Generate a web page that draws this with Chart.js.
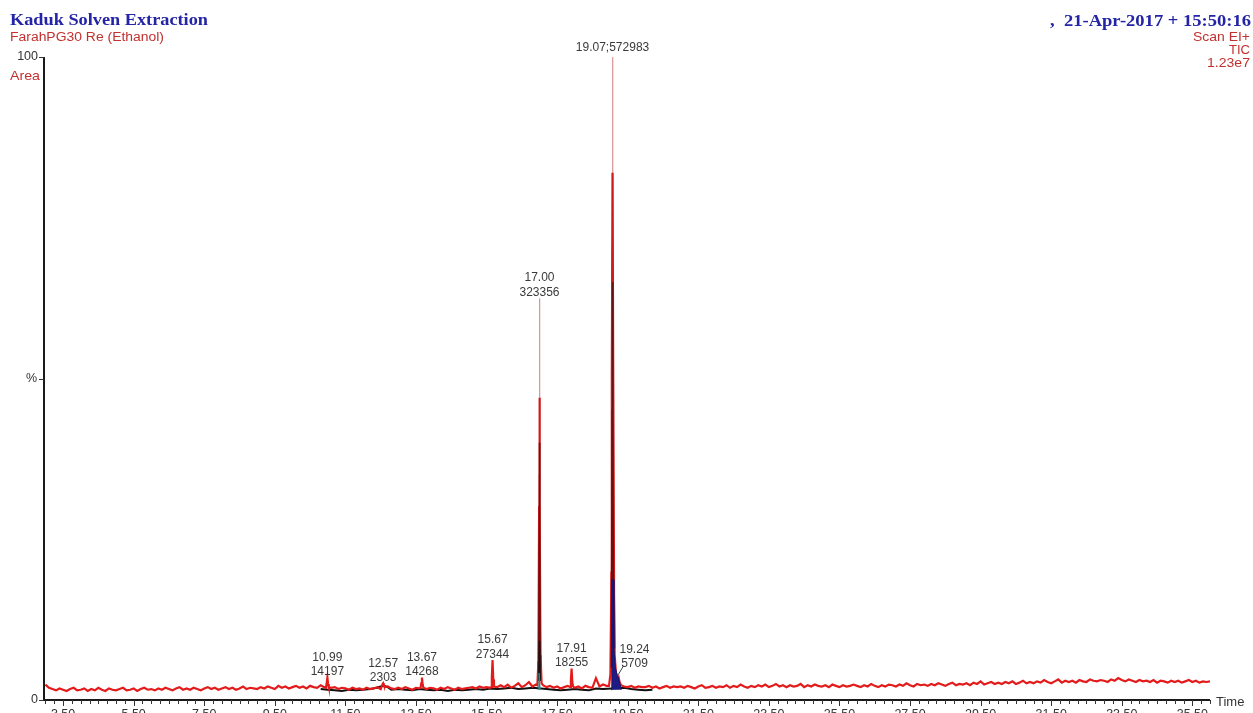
<!DOCTYPE html>
<html><head><meta charset="utf-8">
<script src="https://cdn.jsdelivr.net/npm/chart.js@4/dist/chart.umd.min.js"></script>
<style>html,body{margin:0;padding:0;background:#fff;overflow:hidden}#wrap{width:1253px;height:713px;position:relative}canvas{display:block}</style>
</head><body><div id="wrap"><canvas id="c" width="1253" height="713"></canvas></div>
<script>
// ---------- data (% of 1.23e7 TIC) ----------
const baselineStart = 3.0, baselineStep = 0.1;
const baselineValues = [
2.4,1.9,1.7,1.5,1.8,1.6,1.4,1.7,1.9,1.5,
1.6,1.8,1.4,1.7,1.5,1.9,1.6,1.4,1.8,1.6,
1.5,1.7,1.9,1.5,1.6,1.8,1.4,1.7,1.9,1.6,
1.7,1.5,1.8,1.6,1.9,1.7,1.5,1.8,2.0,1.6,
1.8,1.6,1.9,1.7,1.5,1.8,2.0,1.7,1.9,1.6,
1.8,2.0,1.7,1.9,1.6,1.8,2.1,1.7,1.9,1.8,
1.7,2.0,1.8,2.1,1.9,1.7,2.2,1.9,2.1,1.8,
2.0,2.2,1.9,2.1,1.8,2.2,2.0,1.9,2.3,2.0,
2.1,1.9,2.0,1.7,1.9,1.8,1.6,1.9,1.7,1.8,
1.6,1.9,1.7,1.8,2.0,1.7,1.9,2.1,1.8,1.7,
1.9,1.7,2.0,1.8,1.6,1.9,1.8,2.0,1.7,1.9,
1.8,1.6,1.9,1.7,2.0,1.8,1.6,1.9,1.7,1.8,
1.9,2.0,1.8,2.1,1.9,2.0,1.9,2.2,2.0,2.3,
2.0,2.4,1.9,2.2,2.6,2.0,2.3,2.8,2.1,2.4,
2.3,2.3,2.0,2.2,1.9,2.1,1.8,2.0,2.2,2.1,
1.9,2.1,1.8,2.2,2.0,1.9,3.4,2.1,2.4,2.2,
2.2,2.3,2.2,2.3,2.1,2.0,2.2,1.9,2.1,2.0,
2.0,2.2,1.9,2.1,1.8,2.0,2.2,1.9,2.1,2.0,
2.1,1.9,2.2,2.0,1.8,2.1,2.3,1.9,2.0,2.2,
1.9,2.1,2.0,2.3,1.9,2.2,2.0,2.4,2.1,1.9,
2.2,2.0,2.3,2.1,2.4,2.0,2.2,2.5,2.1,2.3,
2.0,2.3,2.1,2.2,2.5,2.0,2.3,2.1,2.4,2.2,
2.1,2.3,2.0,2.4,2.2,2.0,2.3,2.1,2.2,2.4,
2.2,2.0,2.3,2.1,2.5,2.2,2.0,2.3,2.1,2.4,
2.3,2.1,2.4,2.2,2.6,2.3,2.1,2.5,2.3,2.4,
2.2,2.5,2.3,2.6,2.4,2.2,2.5,2.7,2.3,2.5,
2.4,2.6,2.3,2.7,2.5,2.9,2.4,2.6,2.8,2.5,
2.7,2.5,2.8,2.6,2.9,2.5,2.7,3.0,2.6,2.8,
2.6,2.9,2.7,3.1,2.8,2.6,2.9,3.2,2.7,3.0,
2.8,3.0,2.7,3.1,2.9,2.8,3.2,3.0,2.9,3.1,
3.0,2.8,3.2,3.0,3.4,3.1,2.9,3.2,3.0,2.8,
3.1,2.9,3.0,2.8,3.1,2.7,3.0,2.9,2.7,3.0,
2.8,3.0,2.7,2.9,3.1,2.8,3.0,2.7,2.9,2.8,
2.9];

// TIC peak shapes
const peakTimes = [
  [10.95,10.97,10.99,11.01,11.03],
  [12.52,12.55,12.57,12.59,12.62],
  [13.63,13.65,13.67,13.69,13.71],
  [15.63,15.65,15.67,15.69,15.71],
  [16.94,16.97,16.99,17.00,17.01,17.03,17.06],
  [17.87,17.89,17.91,17.93,17.95],
  [18.97,19.01,19.04,19.06,19.07,19.08,19.10,19.13,19.17,19.21,19.24,19.27,19.31]
];
const peakValues = [
  [1.9,2.6,3.5,2.5,2.0],
  [2.0,2.4,2.6,2.3,2.0],
  [1.9,2.6,3.5,2.4,1.9],
  [2.0,3.5,6.2,3.2,2.1],
  [2.3,6,35,62.5,35,7,2.6],
  [2.0,3.0,4.9,2.8,2.1],
  [2.2,4,20,70,100,70,20,7,4,3.4,3.6,2.8,2.3]
];

// lower trace (black) under the baseline
const blackTimes = [10.8,11.0,11.2,11.4,11.6,11.8,12.0,12.2,12.4,12.5,12.6,12.7,12.8,13.0,13.2,13.4,13.6,13.8,14.0,14.2,14.4,14.6,14.8,15.0,15.2,15.4,15.6,15.8,16.0,16.2,16.4,16.6,16.8,17.2,17.4,17.6,17.8,18.0,18.2,18.4,18.6,18.8,19.4,19.6,19.8,20.0,20.2];
const blackValues = [1.7,1.6,1.5,1.4,1.6,1.5,1.6,1.7,1.9,2.1,2.2,2.0,1.6,1.7,1.6,1.5,1.7,1.6,1.5,1.6,1.4,1.6,1.5,1.6,1.7,1.6,1.8,1.7,1.8,1.9,1.7,1.8,1.9,1.7,1.6,1.5,1.6,1.7,1.6,1.5,1.8,1.7,1.9,1.7,1.6,1.5,1.6];

// overlaid channel cores inside the two main peaks
const midTimes = [[16.97,16.99,17.00,17.01,17.03],[19.03,19.05,19.07,19.09,19.12]];
const midValues = [[4,30,47,30,5],[6,50,82,50,8]];
const darkTimes = [[16.98,16.995,17.00,17.005,17.02],[19.04,19.06,19.07,19.08,19.10]];
const darkValues = [[3,25,40,25,3],[5,45,65,45,6]];
const coreTimes = [16.985,17.00,17.015];
const coreValues = [3,9.2,3];
const tealTimes = [16.98,16.99,17.01,17.02];
const tealValues = [1.6,4.2,4.2,1.6];
const blueTimes = [19.03,19.05,19.09,19.11,19.15,19.20,19.26,19.32];
const blueValues = [1.6,18.7,18.7,8,5,4,3,1.6];

// peak annotations
const labelTimes = [10.99,12.57,13.67,15.67,17.00,17.91,19.07,19.24];
const labelApex  = [3.5,2.6,3.5,6.2,62.5,4.9,100,3.6];
const labelAreas = ['14197','2303','14268','27344','323356','18255','572983','5709'];
const labelNames = ['10.99','12.57','13.67','15.67','17.00','17.91','19.07','19.24'];

// axis ticks
const xTickLabels = ['3.50','5.50','7.50','9.50','11.50','13.50','15.50','17.50','19.50','21.50','23.50','25.50','27.50','29.50','31.50','33.50','35.50'];
const xMinorStep = 0.25;
const yTickValues = [0,50,100];
const yTickLabels = ['0','%','100'];

// ---------- build series ----------
const windows = peakTimes.map(w => [w[0], w[w.length-1]]);
const tic = [];
baselineValues.forEach((v,i) => {
  const t = +(baselineStart + i*baselineStep).toFixed(2);
  if (windows.some(w => t >= w[0] && t <= w[1])) return;
  tic.push({x:t, y:v});
});
peakTimes.forEach((w,k) => w.forEach((t,j) => tic.push({x:t, y:peakValues[k][j]})));
tic.sort((a,b) => a.x - b.x);

function segs(ts, vs){
  const out = [];
  ts.forEach((w,k) => { if (k) out.push({x:(ts[k-1][ts[k-1].length-1]+w[0])/2, y:null}); w.forEach((t,j)=>out.push({x:t,y:vs[k][j]})); });
  return out;
}
const pts = (ts,vs) => ts.map((t,i)=>({x:t,y:vs[i]}));

const RED = '#e31b1b';
const datasets = [
  {data: pts(blackTimes,blackValues), borderColor:'#111', borderWidth:2, order:10},
  {data: tic, borderColor:RED, borderWidth:2.2, order:9,
   segment:{borderColor: c => (c.p0.parsed.y > 20 || c.p1.parsed.y > 20) ? '#d99494' : RED,
            borderWidth: c => (c.p0.parsed.y > 20 || c.p1.parsed.y > 20) ? 1.2 : 2.2}},
  {data: segs(midTimes,midValues), borderColor:'#d01a1a', borderWidth:2.2, order:8, spanGaps:false},
  {data: segs(darkTimes,darkValues), borderColor:'#6a1010', borderWidth:1.6, order:7, spanGaps:false},
  {data: pts(coreTimes,coreValues), borderColor:'#151515', borderWidth:1.8, order:6},
  {data: pts(tealTimes,tealValues), borderColor:'#2a8585', backgroundColor:'#2e8b8b', borderWidth:1, fill:{value:1.6}, order:5},
  {data: pts(blueTimes,blueValues), borderColor:'#16166e', backgroundColor:'#1c1c84', borderWidth:1, fill:{value:1.6}, order:4}
];

// text drawn to a target width (the original export is slightly stretched)
function fitText(ctx, text, x, yb, width, align){
  const w = ctx.measureText(text).width;
  const s = width / w;
  ctx.save();
  ctx.textAlign = 'left';
  const left = align === 'right' ? x - width : x;
  ctx.translate(left, yb); ctx.scale(s, 1);
  ctx.fillText(text, 0, 0);
  ctx.restore();
}

// ---------- decorations plugin ----------
const deco = {
  id:'deco',
  afterDraw(chart){
    const {ctx, chartArea:a, scales:{x, y}} = chart;
    ctx.save();
    // axes
    ctx.strokeStyle = '#1a1a1a'; ctx.lineWidth = 2;
    ctx.beginPath();
    ctx.moveTo(a.left, y.getPixelForValue(100)); ctx.lineTo(a.left, y.getPixelForValue(0));
    ctx.lineTo(a.right, y.getPixelForValue(0)); ctx.stroke();
    ctx.lineWidth = 1; ctx.strokeStyle = '#333';
    ctx.beginPath();
    yTickValues.forEach(v => { const py = Math.round(y.getPixelForValue(v))+0.5; ctx.moveTo(a.left-5, py); ctx.lineTo(a.left, py); });
    for (let t = Math.ceil(x.min/xMinorStep)*xMinorStep; t <= x.max+1e-9; t += xMinorStep) {
      const px = Math.round(x.getPixelForValue(t))+0.5;
      const py = y.getPixelForValue(0);
      ctx.moveTo(px, py); ctx.lineTo(px, py + (Math.abs((t-3.5)/2 - Math.round((t-3.5)/2)) < 1e-6 ? 6 : 4));
    }
    ctx.stroke();
    // tick labels
    ctx.fillStyle = '#333'; ctx.font = '12.5px "Liberation Sans", Arial, sans-serif';
    ctx.textAlign = 'center'; ctx.textBaseline = 'middle';
    xTickLabels.forEach(l => ctx.fillText(l, x.getPixelForValue(parseFloat(l)), y.getPixelForValue(0) + 15));
    ctx.textAlign = 'right';
    yTickValues.forEach((v,i) => ctx.fillText(yTickLabels[i], a.left - (yTickLabels[i]==='%' ? 7 : 6), y.getPixelForValue(v)));
    ctx.textAlign = 'left';
    ctx.font = '13px "Liberation Sans", Arial, sans-serif';
    ctx.fillText('Time', a.right + 6, y.getPixelForValue(0) + 2);
    // peak labels
    ctx.fillStyle = '#3a3a3a'; ctx.font = '12px "Liberation Sans", Arial, sans-serif';
    ctx.textAlign = 'center';
    labelTimes.forEach((t,i) => {
      const px = x.getPixelForValue(t), py = y.getPixelForValue(labelApex[i]);
      if (labelNames[i] === '19.07') {
        ctx.fillText(labelNames[i] + ';' + labelAreas[i], px, py - 9);
      } else if (labelNames[i] === '19.24') {
        ctx.fillText(labelNames[i], px + 16, py - 27);
        ctx.fillText(labelAreas[i], px + 16, py - 13);
        ctx.strokeStyle = '#444'; ctx.lineWidth = 1;
        ctx.beginPath(); ctx.moveTo(px + 5, py - 11); ctx.lineTo(px - 1, py - 1); ctx.stroke();
      } else {
        ctx.fillText(labelNames[i], px, py - 20);
        ctx.fillText(labelAreas[i], px, py - 5.5);
      }
    });
    // header texts
    ctx.textBaseline = 'alphabetic';
    ctx.fillStyle = '#2424a6'; ctx.font = 'bold 16px "Liberation Serif", "Times New Roman", serif';
    fitText(ctx, 'Kaduk Solven Extraction', 10, 25, 198, 'left');
    fitText(ctx, ',  21-Apr-2017 + 15:50:16', 1251, 26, 201, 'right');
    ctx.fillStyle = '#c3302e'; ctx.font = '12.5px "Liberation Sans", Arial, sans-serif';
    fitText(ctx, 'FarahPG30 Re (Ethanol)', 10, 41, 154, 'left');
    ctx.font = '13px "Liberation Sans", Arial, sans-serif';
    fitText(ctx, 'Area', 10, 80, 30, 'left');
    fitText(ctx, 'Scan EI+', 1250, 41, 57, 'right');
    fitText(ctx, 'TIC', 1250, 54, 21, 'right');
    fitText(ctx, '1.23e7', 1250, 67, 43, 'right');
    ctx.restore();
  }
};

new Chart(document.getElementById('c'), {
  type:'line',
  data:{datasets},
  options:{
    responsive:false, animation:false, events:[],
    layout:{padding:{left:44, right:43, top:57, bottom:13}},
    scales:{
      x:{type:'linear', min:2.96, max:36.0, display:false},
      y:{min:0, max:100, display:false}
    },
    elements:{point:{radius:0}, line:{tension:0}},
    plugins:{legend:{display:false}, tooltip:{enabled:false}, title:{display:false}}
  },
  plugins:[deco]
});
</script></body></html>
